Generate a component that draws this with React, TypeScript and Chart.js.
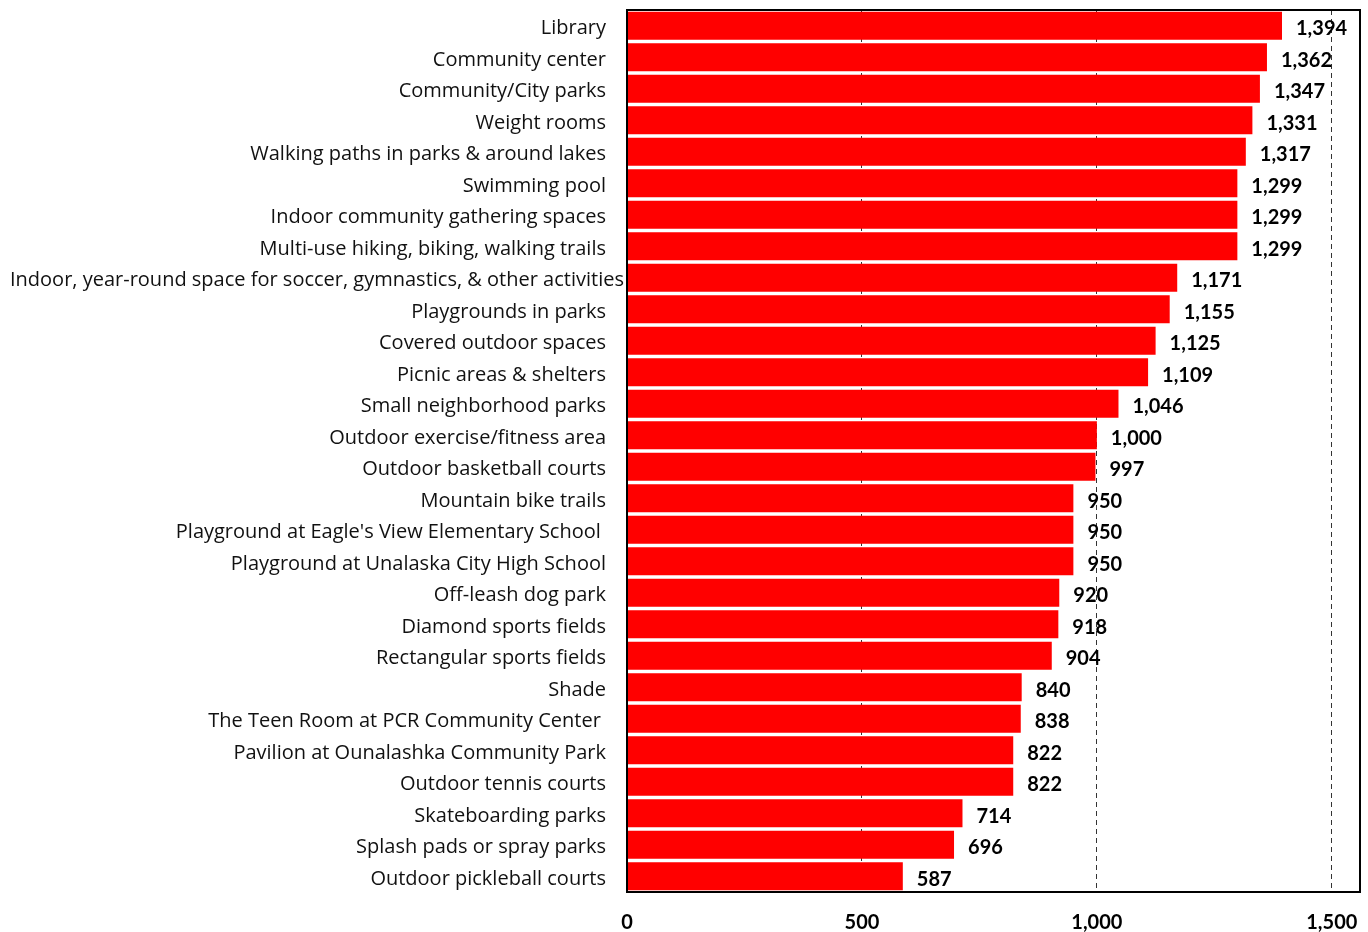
import React, { useEffect, useRef } from "react";
import { Chart, registerables } from "chart.js";

Chart.register(...registerables);

const categories: string[] = [
  "Library",
  "Community center",
  "Community/City parks",
  "Weight rooms",
  "Walking paths in parks & around lakes",
  "Swimming pool",
  "Indoor community gathering spaces",
  "Multi-use hiking, biking, walking trails",
  "Indoor, year-round space for soccer, gymnastics, & other activities",
  "Playgrounds in parks",
  "Covered outdoor spaces",
  "Picnic areas & shelters",
  "Small neighborhood parks",
  "Outdoor exercise/fitness area",
  "Outdoor basketball courts",
  "Mountain bike trails",
  "Playground at Eagle's View Elementary School ",
  "Playground at Unalaska City High School",
  "Off-leash dog park",
  "Diamond sports fields",
  "Rectangular sports fields",
  "Shade",
  "The Teen Room at PCR Community Center ",
  "Pavilion at Ounalashka Community Park",
  "Outdoor tennis courts",
  "Skateboarding parks",
  "Splash pads or spray parks",
  "Outdoor pickleball courts",
];

const values: number[] = [
  1394, 1362, 1347, 1331, 1317, 1299, 1299, 1299, 1171, 1155, 1125, 1109, 1046,
  1000, 997, 950, 950, 950, 920, 918, 904, 840, 838, 822, 822, 714, 696, 587,
];

const xTicks: number[] = [0, 500, 1000, 1500];
const xMax = 1560;

const CAT_FONT = "'Open Sans', sans-serif";
const NUM_FONT = "Lato, 'Open Sans', sans-serif";

const fmt = (v: number) => v.toLocaleString("en-US");

const overlayPlugin = {
  id: "overlay",
  afterDatasetsDraw(chart: any) {
    const { ctx, chartArea } = chart;
    const meta = chart.getDatasetMeta(0);
    ctx.save();
    ctx.strokeStyle = "#000";
    ctx.lineWidth = 2;
    ctx.strokeRect(
      chartArea.left,
      chartArea.top,
      chartArea.right - chartArea.left,
      chartArea.bottom - chartArea.top
    );
    ctx.font = `bold 20px ${NUM_FONT}`;
    ctx.fillStyle = "#000";
    ctx.textAlign = "left";
    ctx.textBaseline = "middle";
    meta.data.forEach((bar: any, i: number) => {
      ctx.fillText(fmt(values[i]), bar.x + 14, bar.y + 3);
    });
    ctx.font = `20px ${CAT_FONT}`;
    ctx.fillStyle = "#111";
    const yScale = chart.scales.y;
    categories.forEach((label, i) => {
      const y = yScale.getPixelForValue(i);
      const w = ctx.measureText(label).width;
      const rightEdge = chartArea.left - 21;
      if (rightEdge - w < 10) {
        ctx.textAlign = "left";
        ctx.fillText(label, 10, y + 3);
      } else {
        ctx.textAlign = "right";
        ctx.fillText(label, rightEdge, y + 3);
      }
    });
    ctx.restore();
  },
};

export default function App() {
  const ref = useRef<HTMLCanvasElement | null>(null);
  useEffect(() => {
    if (!ref.current) return;
    const chart = new Chart(ref.current, {
      type: "bar",
      data: {
        labels: categories,
        datasets: [
          {
            data: values,
            backgroundColor: "#FF0000",
            borderWidth: 0,
            barPercentage: 0.89,
            categoryPercentage: 1,
          },
        ],
      },
      options: {
        indexAxis: "y",
        responsive: false,
        animation: false,
        layout: { padding: { left: 627, right: 8, top: 10, bottom: 0 } },
        plugins: { legend: { display: false }, tooltip: { enabled: false } },
        scales: {
          x: {
            min: 0,
            max: xMax,
            afterBuildTicks: (scale: any) => {
              scale.ticks = xTicks.map((v) => ({ value: v }));
            },
            afterFit: (scale: any) => {
              scale.height = 40;
              scale.paddingRight = 0;
              scale.paddingLeft = 0;
            },
            border: { display: false, dash: [5, 4] },
            grid: {
              color: (c: any) => (c.tick && c.tick.value === 0 ? "rgba(0,0,0,0)" : "#333"),
              lineWidth: 1,
              drawTicks: false,
            },
            ticks: {
              padding: 19,
              color: "#000",
              font: { family: NUM_FONT, size: 20, weight: "bold" },
              callback: (v: any) => fmt(Number(v)),
            },
          } as any,
          y: {
            ticks: { display: false },
            grid: { display: false },
            border: { display: false },
            afterFit: (scale: any) => {
              scale.width = 0;
            },
          },
        },
      },
      plugins: [overlayPlugin],
    });
    return () => chart.destroy();
  }, []);
  return (
    <div style={{ position: "fixed", left: 0, top: 0, width: 1368, height: 932, background: "#fff" }}>
      <canvas ref={ref} width={1368} height={932} />
    </div>
  );
}
